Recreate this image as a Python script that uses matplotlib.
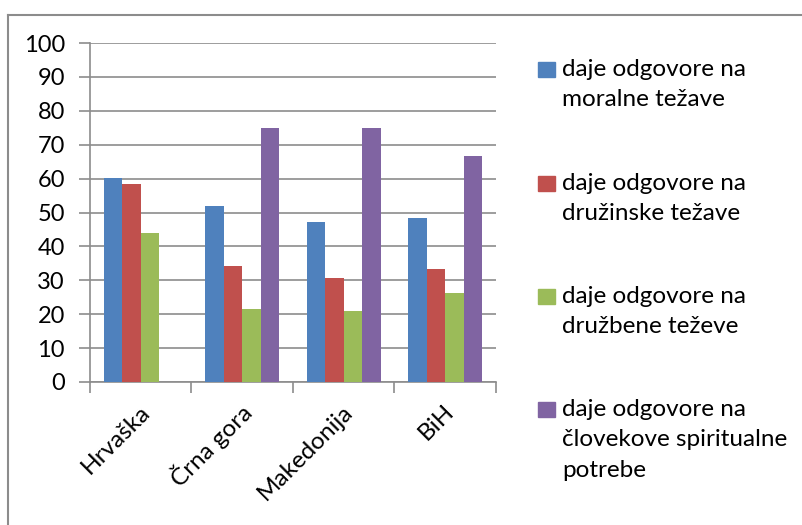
import numpy as np
import matplotlib.pyplot as plt
from matplotlib.patches import Rectangle
from matplotlib.lines import Line2D

countries = ["Hrvaška", "Črna gora", "Makedonija", "BiH"]
series_names = ["daje odgovore na\nmoralne težave",
                "daje odgovore na\ndružinske težave",
                "daje odgovore na\ndružbene teževe",
                "daje odgovore na\nčlovekove spiritualne\npotrebe"]
moralne = [60.2, 51.8, 47.1, 48.3]
druzinske = [58.3, 34.1, 30.6, 33.4]
druzbene = [44.1, 21.6, 20.9, 26.3]
spiritualne = [0, 74.9, 74.9, 66.6]
colors = ["#4F81BD", "#C0504D", "#9BBB59", "#8064A2"]

plt.rcParams['font.family'] = ['Lato', 'DejaVu Sans']

fig = plt.figure(figsize=(8.03, 5.25), dpi=100)
ax = fig.add_axes([90/803, 1-382/525, (496-90)/803, (382-43)/525])

x = np.arange(len(countries))
w = 0.182
data = [moralne, druzinske, druzbene, spiritualne]
for i, vals in enumerate(data):
    ax.bar(x + (i - 1.5) * w, vals, w, color=colors[i], zorder=3)

ax.set_xlim(-0.5, 3.5)
ax.set_ylim(0, 100)
ax.set_yticks(range(0, 101, 10))
ax.yaxis.grid(True, color="#8c8c8c", linewidth=1.2, zorder=0)
for s in ["top", "right"]:
    ax.spines[s].set_visible(False)
for s in ["left", "bottom"]:
    ax.spines[s].set_color("#8c8c8c")
    ax.spines[s].set_linewidth(1.2)
ax.tick_params(axis="y", length=8, width=1.2, color="#8c8c8c", labelsize=17, pad=10)
ax.set_xticks(np.arange(-0.5, 4, 1))
ax.set_xticklabels([])
ax.tick_params(axis="x", length=8, width=1.2, color="#8c8c8c")
for i, c in enumerate(countries):
    ax.annotate(c, (i, 0), xycoords="data", xytext=(4, -19), textcoords="offset points",
                rotation=45, ha="right", va="center", rotation_mode="anchor", fontsize=17.5)

# legend
ys = [62, 176, 289, 402]
for i, (name, y) in enumerate(zip(series_names, ys)):
    fig.patches.append(Rectangle((538/803, 1-(y+15)/525), 17/803, 15/525,
                                 transform=fig.transFigure, color=colors[i]))
    fig.text(562/803, 1-(y-3)/525, name, fontsize=17.5, va="top", ha="left", linespacing=1.55)

# outer frame (top and left)
fig.lines.append(Line2D([8/803, 802/803], [1-14.5/525, 1-14.5/525], transform=fig.transFigure,
                        color="#8c8c8c", linewidth=1.5))
fig.lines.append(Line2D([8/803, 8/803], [1-14.5/525, 0], transform=fig.transFigure,
                        color="#8c8c8c", linewidth=1.5))

fig.savefig("out.png", dpi=100)
